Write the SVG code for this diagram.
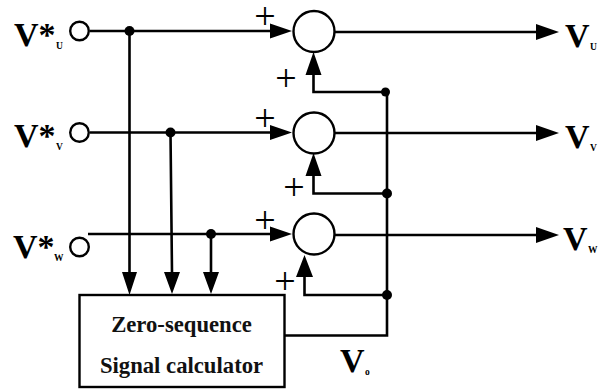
<svg xmlns="http://www.w3.org/2000/svg" width="599" height="390" viewBox="0 0 599 390">
<style>
.w{fill:none;stroke:#000;stroke-width:2.600}
.n{fill:#fff;stroke:#000;stroke-width:2.400}
.d{fill:#000;stroke:none}
.a{fill:#000;stroke:none}
text{font-family:"Liberation Serif","Times New Roman",serif;font-weight:bold;fill:#000}
.big{font-size:34px}
.sub{font-size:9.500px}
.plus{font-size:38px;font-weight:normal;text-anchor:middle}
.lab{font-size:22.700px;text-anchor:middle;fill:#111}
</style>
<rect width="599" height="390" fill="#fff"/>
<g id="connectors">
<path class="w" d="M90 31H272M129.500 31V273M90 132.500H272M170.500 132.500L172 273M88 234H272M211 234V273"/>
<path class="w" d="M335 32H537M335 133H537M335 235H537"/>
<path class="w" d="M385.500 92H313.500V74M387 92V335.500H285M387 193.500H313.500V175M387 295H304.500V276"/>
<path class="a" d="M270 23.500L292 31L270 38.500ZM270 125L292 132.500L270 140ZM270 226.500L292 234L270 241.500Z"/>
<path class="a" d="M536 24L559 32L536 40ZM536 125L559 133L536 141ZM536 227L559 235L536 243Z"/>
<path class="a" d="M305.500 75L313.500 52L321.500 75ZM305.500 176L313.500 153L321.500 176ZM296 277L304.500 255L313 277Z"/>
<path class="a" d="M122 272L129.500 295L137 272ZM164 272L172 294L180 272ZM203 272L211 294L219 272Z"/>
<circle class="d" cx="129.500" cy="31" r="5"/><circle class="d" cx="170.500" cy="132.500" r="5"/><circle class="d" cx="211" cy="234" r="5"/>
<circle class="d" cx="385.500" cy="92" r="4.500"/><circle class="d" cx="387" cy="193.500" r="5"/><circle class="d" cx="387" cy="295" r="5"/>
</g>
<g id="input-u"><circle class="n" cx="79.500" cy="31" r="9.300"/><text class="big" x="14" y="46">V*</text><text class="sub" x="56" y="49">U</text></g>
<g id="input-v"><circle class="n" cx="79.500" cy="132.500" r="9.300"/><text class="big" x="14" y="147">V*</text><text class="sub" x="56" y="150">V</text></g>
<g id="input-w"><circle class="n" cx="79.500" cy="247" r="9.300"/><text class="big" x="13" y="258">V*</text><text class="sub" x="54" y="261">W</text></g>
<g id="sum-u"><circle class="n" cx="314" cy="31.500" r="20.500"/><text class="plus" x="265" y="29">+</text><text class="plus" x="286" y="91">+</text></g>
<g id="sum-v"><circle class="n" cx="314" cy="133" r="20.500"/><text class="plus" x="265" y="131">+</text><text class="plus" x="294" y="200">+</text></g>
<g id="sum-w"><circle class="n" cx="314" cy="234" r="20.500"/><text class="plus" x="265" y="233">+</text><text class="plus" x="285" y="294">+</text></g>
<g id="calculator"><rect class="n" x="79.500" y="295" width="205" height="92"/><text class="lab" x="181.500" y="332">Zero-sequence</text><text class="lab" x="181.500" y="373">Signal calculator</text></g>
<g id="output-u"><text class="big" x="565" y="46.500">V</text><text class="sub" x="590" y="49.500">U</text></g>
<g id="output-v"><text class="big" x="565" y="148">V</text><text class="sub" x="590" y="151">V</text></g>
<g id="output-w"><text class="big" x="563" y="250">V</text><text class="sub" x="588" y="253">W</text></g>
<g id="output-o"><text class="big" x="340" y="372">V</text><text class="sub" x="365" y="375">o</text></g>
</svg>
